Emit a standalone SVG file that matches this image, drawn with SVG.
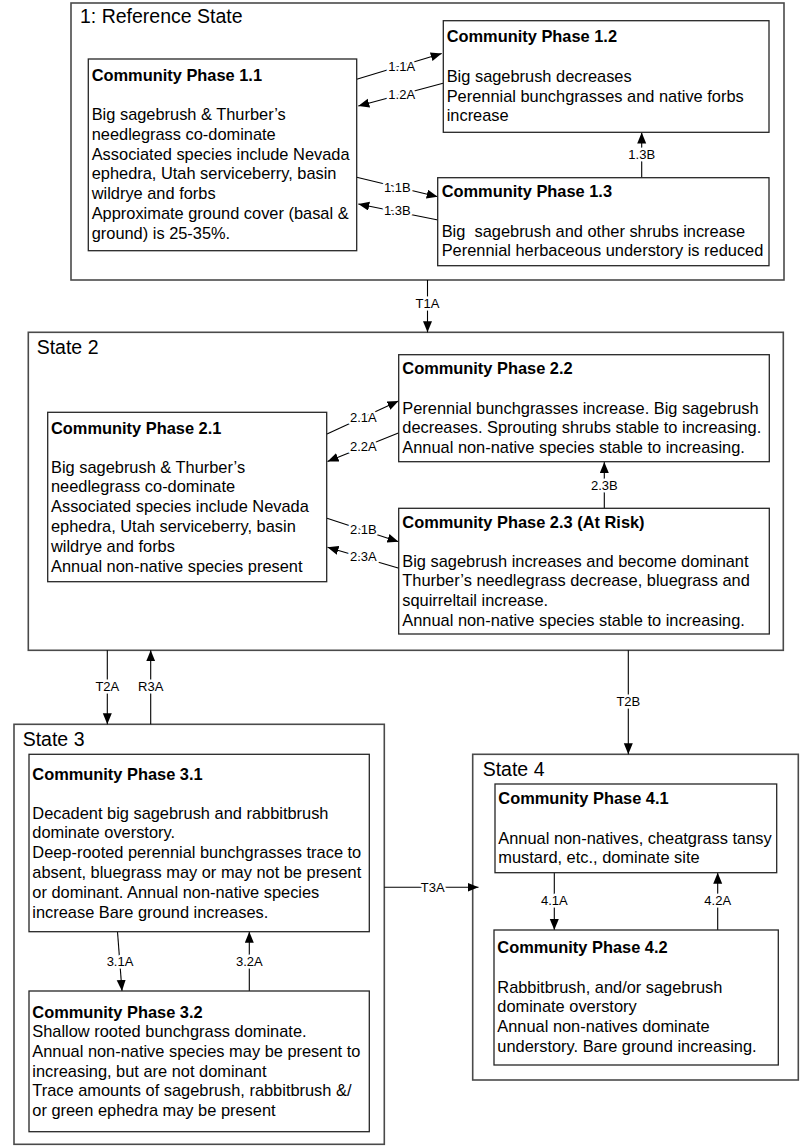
<svg xmlns="http://www.w3.org/2000/svg" width="800" height="1146" viewBox="0 0 800 1146">
<style>
text{font-family:"Liberation Sans",Arial,sans-serif;fill:#000}
.state{fill:#fff;stroke:#4a4a4a;stroke-width:1.6}
.phase{fill:#fff;stroke:#262626;stroke-width:1.3}
.title{font-size:19.5px}
.head{font-size:16.4px;font-weight:bold}
.body{font-size:16.4px}
.conn path{fill:none;stroke:#000;stroke-width:1.1;marker-end:url(#ah)}
.lbl{font-size:13px;text-anchor:middle;stroke:#fff;stroke-width:5;paint-order:stroke;stroke-linejoin:round}
</style>
<defs>
<marker id="ah" markerUnits="userSpaceOnUse" markerWidth="12" markerHeight="10" refX="11" refY="4.5" orient="auto">
<path d="M0,0 L11,4.5 L0,9 z" fill="#000"/>
</marker>
</defs>
<rect width="800" height="1146" fill="#fff"/>

<g id="state1"><rect class="state" x="71" y="3" width="713" height="277"/><text class="title" x="80" y="23.3">1: Reference State</text></g>
<g id="state2"><rect class="state" x="28.3" y="332.3" width="755" height="318"/><text class="title" x="36.7" y="353.5">State 2</text></g>
<g id="state3"><rect class="state" x="14" y="724.3" width="370.3" height="420"/><text class="title" x="22.7" y="746">State 3</text></g>
<g id="state4"><rect class="state" x="472.7" y="754.3" width="325.6" height="325.7"/><text class="title" x="482.7" y="775.5">State 4</text></g>

<g id="connectors" class="conn">
<path d="M356.7,79.3 L441.7,53.5"/>
<path d="M443,83.3 L358.3,106"/>
<path d="M356.7,177.3 L437.7,196.7"/>
<path d="M438,220 L358.3,204"/>
<path d="M641.7,178 L641.7,132.5"/>
<path d="M427.5,280 L427.5,332.3"/>
<path d="M327,434 L398.5,401"/>
<path d="M399,432.7 L327.5,461.5"/>
<path d="M327,518.3 L398.5,541.7"/>
<path d="M399,568.3 L327.5,547.3"/>
<path d="M604.3,508.3 L604.3,462"/>
<path d="M107.3,650.3 L107.3,724.3"/>
<path d="M150.7,724.3 L150.7,650.3"/>
<path d="M628.3,650.3 L628.3,754.3"/>
<path d="M384.3,887.3 L478.5,887.3"/>
<path d="M117.5,931.7 L122,991"/>
<path d="M249.3,991 L249.3,931.7"/>
<path d="M554.3,872.7 L554.3,930"/>
<path d="M717.7,930 L717.7,872.7"/>
<g>
<text class="lbl" x="401.7" y="71.4">1.1A</text>
<text class="lbl" x="401.7" y="99">1.2A</text>
<text class="lbl" x="397.3" y="192">1.1B</text>
<text class="lbl" x="397.3" y="214.7">1.3B</text>
<text class="lbl" x="641.7" y="158.7">1.3B</text>
<text class="lbl" x="427.5" y="307.7">T1A</text>
<text class="lbl" x="363.3" y="422">2.1A</text>
<text class="lbl" x="363.3" y="451.4">2.2A</text>
<text class="lbl" x="363.3" y="534">2.1B</text>
<text class="lbl" x="363.3" y="561.4">2.3A</text>
<text class="lbl" x="604.3" y="489.7">2.3B</text>
<text class="lbl" x="107.3" y="691.4">T2A</text>
<text class="lbl" x="150.7" y="691.4">R3A</text>
<text class="lbl" x="628.3" y="705.7">T2B</text>
<text class="lbl" x="432.7" y="892">T3A</text>
<text class="lbl" x="120" y="966.4">3.1A</text>
<text class="lbl" x="249.3" y="966.4">3.2A</text>
<text class="lbl" x="554.3" y="904.7">4.1A</text>
<text class="lbl" x="717.7" y="904.7">4.2A</text>
</g>
</g>

<g id="phase11"><rect class="phase" x="88.3" y="59" width="268.4" height="191.7"/>
<text class="head" x="91.7" y="81">Community Phase 1.1</text>
<text class="body" x="91.7" y="120.3">Big sagebrush &amp; Thurber’s</text>
<text class="body" x="91.7" y="140">needlegrass co-dominate</text>
<text class="body" x="91.7" y="159.7">Associated species include Nevada</text>
<text class="body" x="91.7" y="179.4">ephedra, Utah serviceberry, basin</text>
<text class="body" x="91.7" y="199.1">wildrye and forbs</text>
<text class="body" x="91.7" y="218.8">Approximate ground cover (basal &amp;</text>
<text class="body" x="91.7" y="238.5">ground) is 25-35%.</text>
</g>
<g id="phase12"><rect class="phase" x="443.3" y="20.7" width="325.7" height="111.6"/>
<text class="head" x="446.7" y="42">Community Phase 1.2</text>
<text class="body" x="446.7" y="82">Big sagebrush decreases</text>
<text class="body" x="446.7" y="101.7">Perennial bunchgrasses and native forbs</text>
<text class="body" x="446.7" y="121.4">increase</text>
</g>
<g id="phase13"><rect class="phase" x="437.7" y="177.7" width="331.3" height="88"/>
<text class="head" x="441.7" y="197">Community Phase 1.3</text>
<text class="body" x="441.7" y="236.5" xml:space="preserve">Big  sagebrush and other shrubs increase</text>
<text class="body" x="441.7" y="256">Perennial herbaceous understory is reduced</text>
</g>

<g id="phase21"><rect class="phase" x="47.7" y="412.3" width="279" height="169.4"/>
<text class="head" x="51" y="433.5">Community Phase 2.1</text>
<text class="body" x="51" y="472.5">Big sagebrush &amp; Thurber’s</text>
<text class="body" x="51" y="492.3">needlegrass co-dominate</text>
<text class="body" x="51" y="512.1">Associated species include Nevada</text>
<text class="body" x="51" y="531.9">ephedra, Utah serviceberry, basin</text>
<text class="body" x="51" y="551.7">wildrye and forbs</text>
<text class="body" x="51" y="571.5">Annual non-native species present</text>
</g>
<g id="phase22"><rect class="phase" x="398.7" y="354.7" width="370.6" height="107"/>
<text class="head" x="402.3" y="373.5">Community Phase 2.2</text>
<text class="body" x="402.3" y="413.5">Perennial bunchgrasses increase. Big sagebrush</text>
<text class="body" x="402.3" y="433.2">decreases. Sprouting shrubs stable to increasing.</text>
<text class="body" x="402.3" y="452.9">Annual non-native species stable to increasing.</text>
</g>
<g id="phase23"><rect class="phase" x="398.7" y="508.3" width="370.6" height="125.7"/>
<text class="head" x="402.3" y="527.5">Community Phase 2.3 (At Risk)</text>
<text class="body" x="402.3" y="566.5">Big sagebrush increases and become dominant</text>
<text class="body" x="402.3" y="586.3">Thurber’s needlegrass decrease, bluegrass and</text>
<text class="body" x="402.3" y="606.1">squirreltail increase.</text>
<text class="body" x="402.3" y="625.9">Annual non-native species stable to increasing.</text>
</g>

<g id="phase31"><rect class="phase" x="29" y="754.3" width="340.3" height="177.4"/>
<text class="head" x="32.3" y="779.5">Community Phase 3.1</text>
<text class="body" x="32.3" y="818.5">Decadent big sagebrush and rabbitbrush</text>
<text class="body" x="32.3" y="838.3">dominate overstory.</text>
<text class="body" x="32.3" y="858.1">Deep-rooted perennial bunchgrasses trace to</text>
<text class="body" x="32.3" y="877.9">absent, bluegrass may or may not be present</text>
<text class="body" x="32.3" y="897.7">or dominant. Annual non-native species</text>
<text class="body" x="32.3" y="917.5">increase Bare ground increases.</text>
</g>
<g id="phase32"><rect class="phase" x="29" y="991" width="340.3" height="140.7"/>
<text class="head" x="32.3" y="1017.5">Community Phase 3.2</text>
<text class="body" x="32.3" y="1037.2">Shallow rooted bunchgrass dominate.</text>
<text class="body" x="32.3" y="1056.9">Annual non-native species may be present to</text>
<text class="body" x="32.3" y="1076.6">increasing, but are not dominant</text>
<text class="body" x="32.3" y="1096.3">Trace amounts of sagebrush, rabbitbrush &amp;/</text>
<text class="body" x="32.3" y="1116">or green ephedra may be present</text>
</g>

<g id="phase41"><rect class="phase" x="495" y="784" width="281.7" height="88.7"/>
<text class="head" x="498.3" y="803.5">Community Phase 4.1</text>
<text class="body" x="498.3" y="843.5">Annual non-natives, cheatgrass tansy</text>
<text class="body" x="498.3" y="863.2">mustard, etc., dominate site</text>
</g>
<g id="phase42"><rect class="phase" x="494" y="930" width="284.3" height="135"/>
<text class="head" x="497.3" y="953">Community Phase 4.2</text>
<text class="body" x="497.3" y="992.5">Rabbitbrush, and/or sagebrush</text>
<text class="body" x="497.3" y="1012.3">dominate overstory</text>
<text class="body" x="497.3" y="1032.1">Annual non-natives dominate</text>
<text class="body" x="497.3" y="1051.9">understory. Bare ground increasing.</text>
</g>
</svg>
